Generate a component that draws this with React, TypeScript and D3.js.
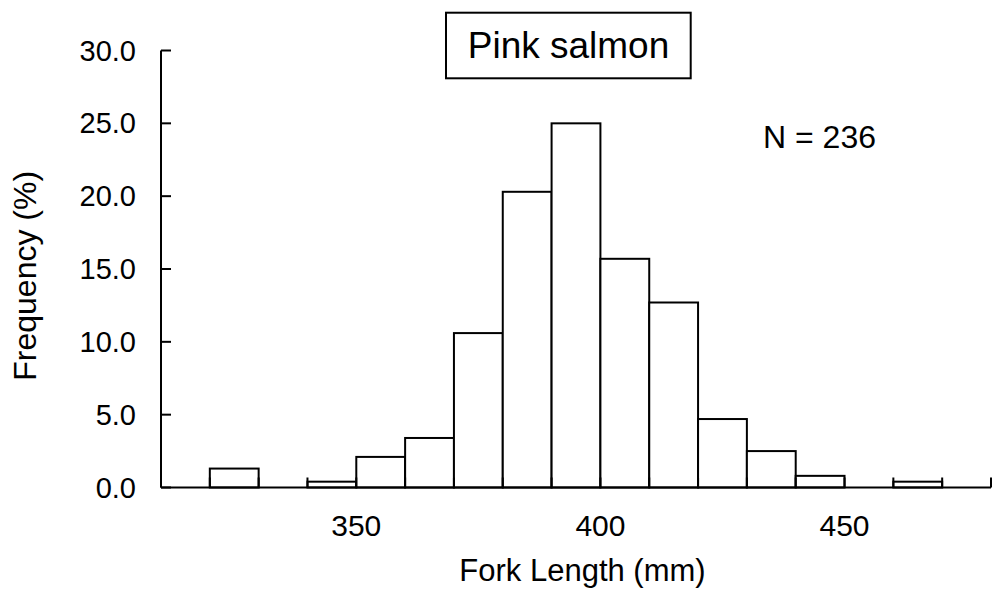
import * as d3 from 'd3';

// fork length bins (mm, lower edge) and % frequency per bin
const binStarts = [320, 330, 340, 350, 360, 370, 380, 390, 400, 410, 420, 430, 440, 450, 460];
const freqPct = [1.3, 0, 0.4, 2.1, 3.4, 10.6, 20.3, 25.0, 15.7, 12.7, 4.7, 2.5, 0.8, 0, 0.4];
const binWidth = 10;
const xTicks = d3.range(310, 481, 10);
const xLabels = [350, 400, 450];
const yTicks = [0, 5, 10, 15, 20, 25, 30];
const title = 'Pink salmon';
const note = 'N = 236';

const W = 992;
const H = 591;
const font = '"Liberation Sans", Arial, sans-serif';

export default function App() {
  const x = d3.scaleLinear().domain([310, 480]).range([161, 991]);
  const y = d3.scaleLinear().domain([0, 30]).range([487.5, 50.5]);

  const bars = binStarts
    .map((b, i) => ({ b, v: freqPct[i] }))
    .filter(d => d.v > 0);

  return (
    <svg
      width={W}
      height={H}
      style={{ position: 'absolute', left: 0, top: 0, display: 'block', background: '#fff' }}
      fontFamily={font}
    >
      {bars.map(d => (
        <rect
          key={d.b}
          x={x(d.b)}
          y={y(d.v)}
          width={x(d.b + binWidth) - x(d.b)}
          height={y(0) - y(d.v)}
          fill="#fff"
          stroke="#000"
          strokeWidth={2}
        />
      ))}

      {/* y axis */}
      <line x1={x(310)} x2={x(310)} y1={y(0)} y2={y(30)} stroke="#000" strokeWidth={2} />
      {yTicks.map(t => (
        <g key={t}>
          <line x1={x(310)} x2={x(310) + 10} y1={y(t)} y2={y(t)} stroke="#000" strokeWidth={2} />
          <text x={136} y={y(t)} dy="0.35em" textAnchor="end" fontSize={29}>
            {d3.format('.1f')(t)}
          </text>
        </g>
      ))}

      {/* x axis */}
      <line x1={x(310)} x2={x(480)} y1={y(0)} y2={y(0)} stroke="#000" strokeWidth={2} />
      {xTicks.map(t => (
        <line key={t} x1={x(t)} x2={x(t)} y1={y(0)} y2={y(0) - 10} stroke="#000" strokeWidth={2} />
      ))}
      {xLabels.map(t => (
        <text key={t} x={x(t)} y={536} textAnchor="middle" fontSize={30}>
          {t}
        </text>
      ))}

      <text x={582.5} y={581} textAnchor="middle" fontSize={31}>
        Fork Length (mm)
      </text>
      <text
        transform="translate(36,275.8) rotate(-90)"
        textAnchor="middle"
        fontSize={32}
      >
        Frequency (%)
      </text>

      {/* title box */}
      <rect x={446} y={12.7} width={244.7} height={65.6} fill="#fff" stroke="#000" strokeWidth={2} />
      <text x={568.5} y={58.3} textAnchor="middle" fontSize={37}>
        {title}
      </text>

      <text x={763} y={148.3} fontSize={32}>
        {note}
      </text>
    </svg>
  );
}
